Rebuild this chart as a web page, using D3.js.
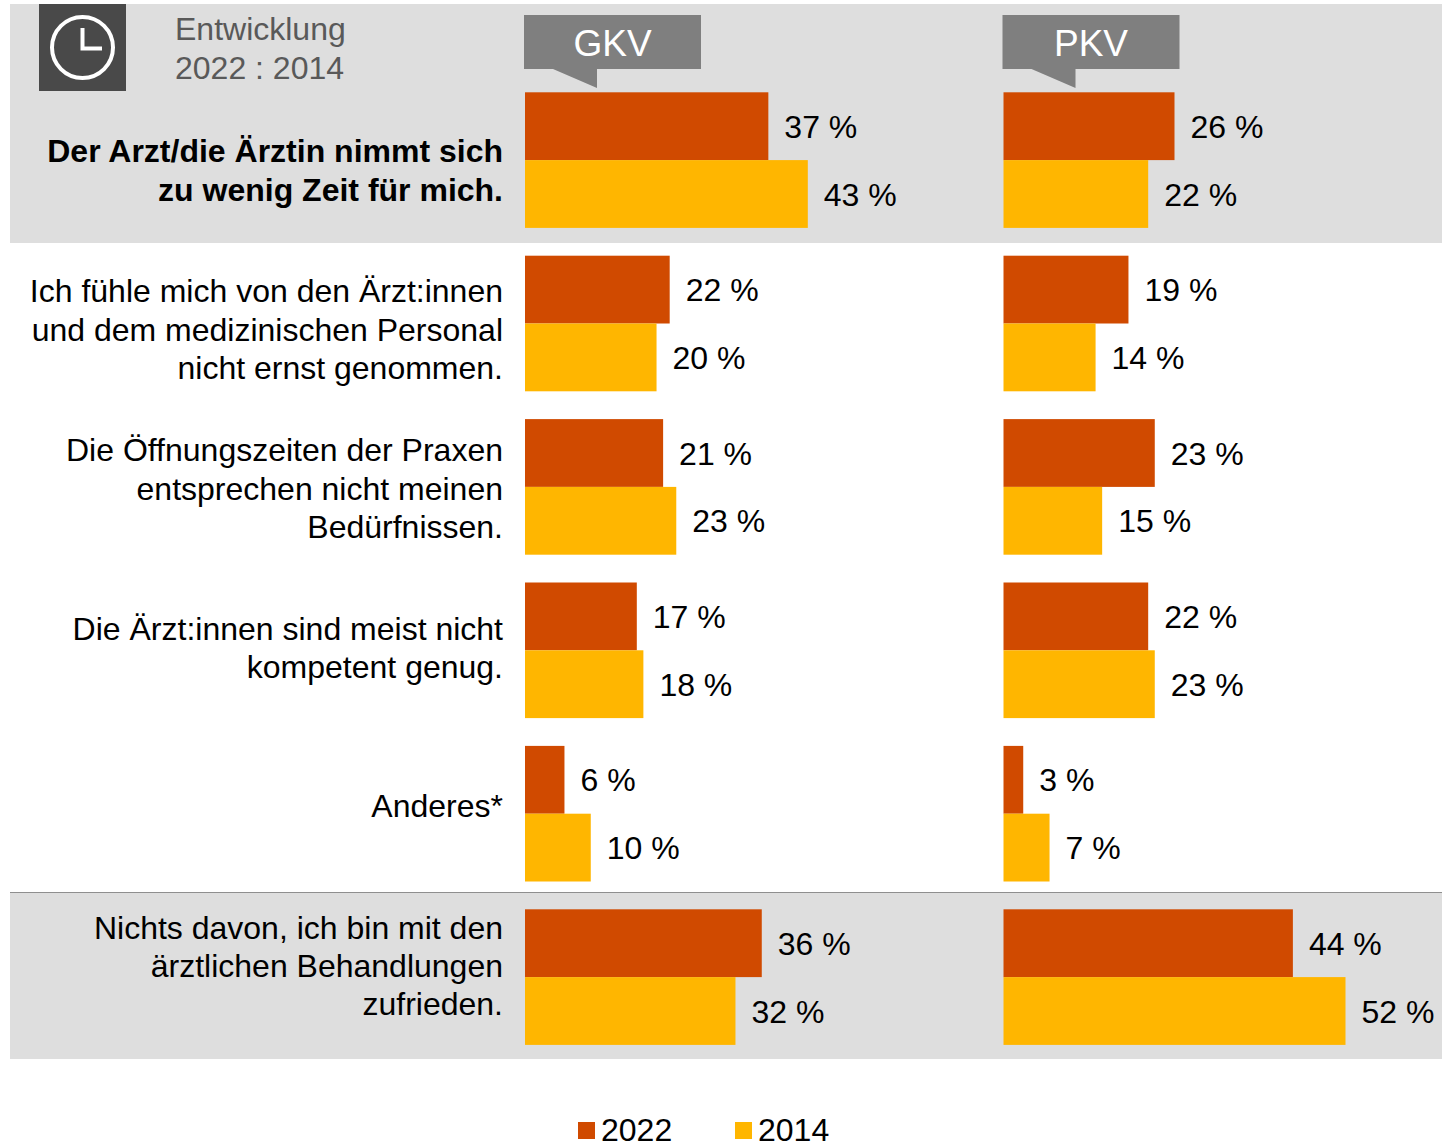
<!DOCTYPE html>
<html lang="de">
<head>
<meta charset="utf-8">
<script src="https://cdn.jsdelivr.net/npm/d3@7"></script>
<style>
  html, body { margin: 0; padding: 0; background: #fff; }
  svg { display: block; }
  text { font-family: "Liberation Sans", Arial, sans-serif; }
</style>
</head>
<body>
<svg id="chart" width="1442" height="1144"></svg>
<script>
// Survey answers, share of respondents in percent
const categories = [
  ["Der Arzt/die Ärztin nimmt sich", "zu wenig Zeit für mich."],
  ["Ich fühle mich von den Ärzt:innen", "und dem medizinischen Personal", "nicht ernst genommen."],
  ["Die Öffnungszeiten der Praxen", "entsprechen nicht meinen", "Bedürfnissen."],
  ["Die Ärzt:innen sind meist nicht", "kompetent genug."],
  ["Anderes*"],
  ["Nichts davon, ich bin mit den", "ärztlichen Behandlungen", "zufrieden."]
];
const insurers = ["GKV", "PKV"];
const years = ["2022", "2014"];
const gkv2022 = [37, 22, 21, 17, 6, 36];
const gkv2014 = [43, 20, 23, 18, 10, 32];
const pkv2022 = [26, 19, 23, 22, 3, 44];
const pkv2014 = [22, 14, 15, 23, 7, 52];
const headerLines = ["Entwicklung", "2022 : 2014"];

const ORANGE = "#D04A00", AMBER = "#FFB600", BAND = "#DEDEDE", CALLOUT = "#7F7F7F";
const yearColor = d3.scaleOrdinal(years, [ORANGE, AMBER]);

const svg = d3.select("#chart");

// Shared percentage scale; each insurer panel starts from its own origin
const x = d3.scaleLinear().domain([0, 52]).range([0, 342]);
const panelX = d3.scaleOrdinal(insurers, [525, 1003.5]);
const rowY = d3.scaleLinear().domain([0, 5]).range([92.3, 909.3]);
const barH = 67.8;

// Grey highlight bands and the rule above the last row
svg.append("rect").attr("x", 10).attr("y", 4).attr("width", 1432).attr("height", 239).attr("fill", BAND);
svg.append("rect").attr("x", 10).attr("y", 892).attr("width", 1432).attr("height", 167).attr("fill", BAND);
svg.append("line").attr("x1", 10).attr("x2", 1442).attr("y1", 892.5).attr("y2", 892.5).attr("stroke", "#8f8f8f").attr("stroke-width", 1);

// Clock icon
svg.append("rect").attr("x", 39).attr("y", 4).attr("width", 87).attr("height", 87).attr("fill", "#494949");
svg.append("circle").attr("cx", 82.5).attr("cy", 47.5).attr("r", 30.5)
  .attr("fill", "none").attr("stroke", "#fff").attr("stroke-width", 4);
svg.append("path").attr("d", "M82.5 28V48.5H102").attr("fill", "none").attr("stroke", "#fff").attr("stroke-width", 4);

// Header caption
svg.selectAll("text.head").data(headerLines).join("text").attr("class", "head")
  .attr("x", 175).attr("y", (d, i) => 40 + i * 39)
  .attr("font-size", 32).attr("fill", "#595959").text(d => d);

// Insurer callouts with their pointer
const callout = svg.selectAll("g.callout").data(insurers).join("g").attr("class", "callout")
  .attr("transform", d => `translate(${panelX(d) - 1},15)`);
callout.append("path").attr("fill", CALLOUT).attr("d", "M0 0H177V54H73V73L29 54H0Z");
callout.append("text").attr("x", 88.5).attr("y", 41).attr("text-anchor", "middle")
  .attr("font-size", 37).attr("fill", "#fff").text(d => d);

// Row captions, right aligned against the bars
const captionBaselines = [162, 302, 461, 640, 817, 939];
const captionLeading = [39, 38.5, 38.5, 38, 38, 38];
const captions = svg.selectAll("g.caption").data(categories).join("g").attr("class", "caption");
captions.each(function (lines, r) {
  d3.select(this).selectAll("text").data(lines).join("text")
    .attr("x", 503).attr("y", (d, i) => captionBaselines[r] + i * captionLeading[r])
    .attr("text-anchor", "end").attr("font-size", 32)
    .attr("font-weight", r === 0 ? 700 : 400).attr("fill", "#000").text(d => d);
});

// Bars and value labels
const seriesList = [
  { panel: "GKV", year: "2022", values: gkv2022, slot: 0 },
  { panel: "GKV", year: "2014", values: gkv2014, slot: 1 },
  { panel: "PKV", year: "2022", values: pkv2022, slot: 0 },
  { panel: "PKV", year: "2014", values: pkv2014, slot: 1 }
];
seriesList.forEach(s => {
  const g = svg.append("g").attr("transform", `translate(${panelX(s.panel)},0)`);
  g.selectAll("rect").data(s.values).join("rect")
    .attr("x", 0).attr("y", (d, i) => rowY(i) + s.slot * barH)
    .attr("width", d => x(d)).attr("height", barH)
    .attr("fill", yearColor(s.year));
  g.selectAll("text").data(s.values).join("text")
    .attr("x", d => x(d) + 16).attr("y", (d, i) => rowY(i) + s.slot * barH + barH / 2 + 11.5)
    .attr("font-size", 32).attr("fill", "#000")
    .text(d => `${d} %`);
});

// Legend
const legendX = d3.scaleOrdinal(years, [578, 735]);
const legend = svg.selectAll("g.legend").data(years).join("g").attr("class", "legend")
  .attr("transform", d => `translate(${legendX(d)},1122)`);
legend.append("rect").attr("width", 17).attr("height", 17).attr("fill", d => yearColor(d));
legend.append("text").attr("x", 23).attr("y", 19).attr("font-size", 32).attr("fill", "#000").text(d => d);
</script>
</body>
</html>
